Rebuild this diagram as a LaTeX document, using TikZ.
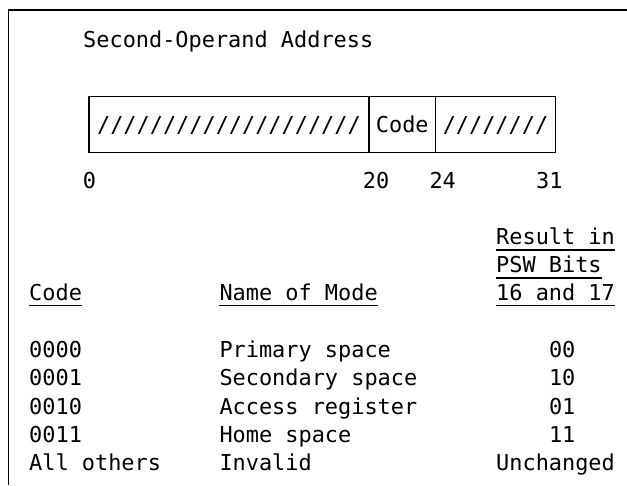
\documentclass[tikz,border=0pt]{standalone}
\usepackage{fontspec}
\newfontfamily\monof{DejaVu Sans Mono}
\begin{document}
\begin{tikzpicture}[x=1pt,y=-1pt,
  txt/.style={inner sep=0pt, anchor=base west, font=\monof\fontsize{21.9}{28}\selectfont},
  field/.style={draw, line width=1.3pt, inner sep=0pt, anchor=north west,
    minimum height=56pt, text height=35.8pt, text depth=20.2pt,
    font=\monof\fontsize{21.9}{28}\selectfont},
  frameline/.style={line width=1.6pt},
  uline/.style={line width=1.3pt}]
\useasboundingbox (0,0) rectangle (627,485);
% frame
\coordinate (tr) at (627,10);
\coordinate (tl) at (8.5,10);
\coordinate (bl) at (8.5,485);
\draw[frameline] (tr) -- (tl) -- (bl);
% title
\node[txt] (title) at (83,47) {Second-Operand Address};
% register
\node[field, minimum width=280pt] (f1) at (88.3,95.7) {////////////////////};
\node[field, minimum width=66.7pt] (f2) at (368.3,95.7) {Code};
\node[field, minimum width=119.7pt] (f3) at (435,95.7) {////////};
% bit labels
\node[txt] (b0) at (82.7,188) {0};
\node[txt] (b20) at (362.7,188) {20};
\node[txt] (b24) at (429.3,188) {24};
\node[txt] (b31) at (536,188) {31};
% headers
\node[txt] (r1) at (496,244.5) {Result in};
\node[txt] (r2) at (496,272.5) {PSW Bits};
\node[txt] (r3) at (496,300) {16 and 17};
\node[txt] (hc) at (29,300) {Code};
\node[txt] (hn) at (219.3,300) {Name of Mode};
\foreach \n in {r1,r2,r3,hc,hn}
  \draw[uline] ([yshift=-5.5pt]\n.base west) -- ([yshift=-5.5pt]\n.base east);
% rows
\node[txt] (c1) at (29,357.5) {0000};
\node[txt] (c2) at (29,385.8) {0001};
\node[txt] (c3) at (29,414.1) {0010};
\node[txt] (c4) at (29,442.4) {0011};
\node[txt] (c5) at (29,470.7) {All others};
\node[txt] (n1) at (219.3,357.5) {Primary space};
\node[txt] (n2) at (219.3,385.8) {Secondary space};
\node[txt] (n3) at (219.3,414.1) {Access register};
\node[txt] (n4) at (219.3,442.4) {Home space};
\node[txt] (n5) at (219.3,470.7) {Invalid};
\node[txt] (v1) at (548.8,357.5) {00};
\node[txt] (v2) at (548.8,385.8) {10};
\node[txt] (v3) at (548.8,414.1) {01};
\node[txt] (v4) at (548.8,442.4) {11};
\node[txt] (v5) at (496,470.7) {Unchanged};
\end{tikzpicture}
\end{document}
